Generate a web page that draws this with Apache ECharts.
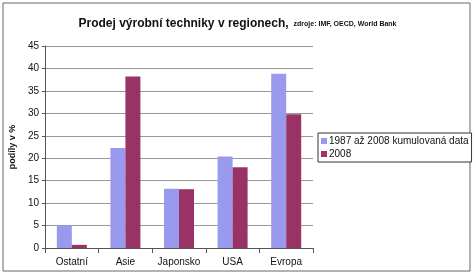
<!DOCTYPE html>
<html><head><meta charset="utf-8">
<script src="https://cdn.jsdelivr.net/npm/echarts@6/dist/echarts.min.js"></script>
<style>html,body{margin:0;padding:0;background:#fff}#c{width:475px;height:277px}</style>
</head><body><div id="c"></div>
<script>
var categories = ['Ostatní', 'Asie', 'Japonsko', 'USA', 'Evropa'];
var seriesNames = ['1987 až 2008 kumulovaná data', '2008'];
var cumulative = [5.0, 22.3, 13.2, 20.4, 38.8];
var year2008 = [0.7, 38.2, 13.1, 18.0, 29.8];
var yTicks = [0, 5, 10, 15, 20, 25, 30, 35, 40, 45];

var chart = echarts.init(document.getElementById('c'), null, {renderer: 'canvas'});
chart.setOption({
  animation: false,
  backgroundColor: '#fff',
  graphic: [{
    type: 'rect', shape: {x: 3, y: 3, width: 467, height: 268},
    style: {fill: 'none', stroke: '#666', lineWidth: 1}
  }],
  title: {
    text: '{a|Prodej výrobní techniky v regionech,} {b|zdroje: IMF, OECD, World Bank}',
    left: 'center', top: 10,
    textStyle: {
      rich: {
        a: {fontFamily: 'Liberation Sans, Arial', fontWeight: 'bold', fontSize: 12, color: '#111'},
        b: {fontFamily: 'Liberation Sans, Arial', fontWeight: 'bold', fontSize: 7, color: '#111'}
      }
    }
  },
  legend: {
    orient: 'vertical', left: 318, top: 133,
    itemWidth: 6, itemHeight: 6, itemGap: 3,
    padding: [3, 3, 3, 3],
    borderColor: '#333', borderWidth: 1,
    backgroundColor: '#fff',
    icon: 'rect',
    textStyle: {fontFamily: 'Liberation Sans, Arial', fontSize: 10, color: '#111', padding: [0, 0, 0, -3]},
    data: seriesNames
  },
  grid: {left: 44, right: 162, top: 46, bottom: 29, containLabel: false},
  xAxis: {
    type: 'category', data: categories,
    axisLine: {lineStyle: {color: '#555'}},
    axisTick: {show: true, lineStyle: {color: '#555'}},
    axisLabel: {interval: 0, fontFamily: 'Liberation Sans, Arial', fontSize: 10, color: '#111', margin: 9}
  },
  yAxis: {
    type: 'value', min: 0, max: 45, interval: 5,
    name: 'podíly v %', nameLocation: 'middle', nameGap: 23, nameRotate: 90,
    nameTextStyle: {fontFamily: 'Liberation Sans, Arial', fontWeight: 'bold', fontSize: 9, color: '#111'},
    axisLine: {show: true, lineStyle: {color: '#555'}},
    axisTick: {show: true, length: 3, lineStyle: {color: '#555'}},
    axisLabel: {fontFamily: 'Liberation Sans, Arial', fontSize: 10, color: '#111', margin: 6,
      formatter: function (v) { return yTicks.indexOf(v) >= 0 ? String(v) : ''; }},
    splitLine: {lineStyle: {color: '#999', width: 1}}
  },
  series: [
    {name: seriesNames[0], type: 'bar', data: cumulative, barWidth: 15, barGap: '0%',
      itemStyle: {color: '#9999ee'}},
    {name: seriesNames[1], type: 'bar', data: year2008, barWidth: 15,
      itemStyle: {color: '#993366'}}
  ]
});
</script></body></html>
